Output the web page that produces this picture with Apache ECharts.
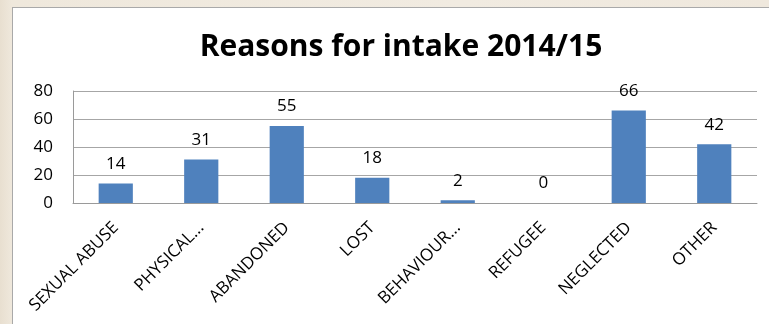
<!DOCTYPE html>
<html>
<head>
<meta charset="utf-8">
<script src="https://cdn.jsdelivr.net/npm/echarts@6/dist/echarts.min.js"></script>
<style>
  html, body { margin: 0; padding: 0; overflow: hidden; }
  body {
    width: 769px; height: 324px; position: relative;
    background: linear-gradient(90deg, #e8dfd0 0px, #efe8dc 12px, #f1ebe1 60%, #efe8dd 100%);
  }
  #panel {
    position: absolute; left: 12px; top: 7px; width: 757px; height: 317px;
    background: #ffffff;
    border-left: 1.5px solid #a9a9a9; border-top: 1.5px solid #a9a9a9;
    box-sizing: border-box;
  }
  #chart { position: absolute; left: 0; top: 0; width: 769px; height: 324px; }
</style>
</head>
<body>
<div id="panel"></div>
<div id="chart"></div>
<script>
// Intake reasons and counts for the 2014/15 year
const categories = ['SEXUAL ABUSE', 'PHYSICAL...', 'ABANDONED', 'LOST', 'BEHAVIOUR...', 'REFUGEE', 'NEGLECTED', 'OTHER'];
const intakeCounts = [14, 31, 55, 18, 2, 0, 66, 42];
const yTicks = [0, 20, 40, 60, 80];

const FONT = '"Open Sans", "Noto Sans", sans-serif';

const chart = echarts.init(document.getElementById('chart'), null, { renderer: 'canvas' });
chart.setOption({
  backgroundColor: 'transparent',
  animation: false,
  title: {
    text: 'Reasons for intake 2014/15',
    left: 396,
    textAlign: 'center',
    top: 27,
    textStyle: { fontFamily: FONT, fontWeight: 'bold', fontSize: 30, color: '#000' }
  },
  grid: { left: 73, right: 12, top: 91, bottom: 121, containLabel: false },
  xAxis: {
    type: 'category',
    data: categories,
    axisLine: { show: true, lineStyle: { color: '#9a9a9a', width: 1 } },
    axisTick: { show: false },
    axisLabel: {
      interval: 0,
      rotate: 45,
      margin: 22,
      fontFamily: FONT,
      fontSize: 17,
      color: '#000'
    }
  },
  yAxis: {
    type: 'value',
    min: yTicks[0],
    max: yTicks[yTicks.length - 1],
    interval: 20,
    axisLine: { show: true, lineStyle: { color: '#9a9a9a', width: 1 } },
    axisTick: { show: false },
    splitLine: { show: true, lineStyle: { color: '#a6a6a6', width: 1 } },
    axisLabel: { margin: 20, fontFamily: FONT, fontSize: 17, color: '#000' }
  },
  series: [{
    type: 'bar',
    data: intakeCounts,
    barWidth: '40%',
    itemStyle: { color: '#4f81bd', borderWidth: 0 },
    label: {
      show: true,
      position: 'top',
      distance: 11,
      fontFamily: FONT,
      fontSize: 17,
      color: '#000'
    }
  }]
});
</script>
</body>
</html>
